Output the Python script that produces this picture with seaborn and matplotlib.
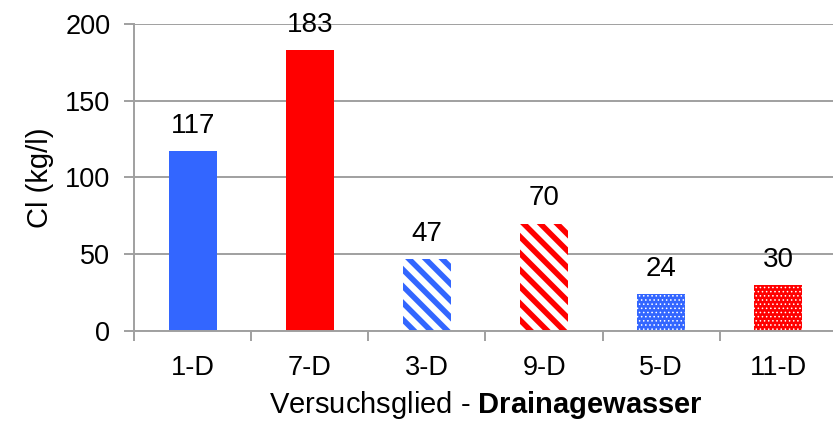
import matplotlib
matplotlib.use("Agg")
import matplotlib.pyplot as plt
import seaborn as sns
import pandas as pd

# Chloride in drainage water per treatment
categories = ["1-D", "7-D", "3-D", "9-D", "5-D", "11-D"]
values = [117, 183, 47, 70, 24, 30]
colors = ["#3366FF", "#FF0000", "#3366FF", "#FF0000", "#3366FF", "#FF0000"]
styles = ["solid", "solid", "stripe", "stripe", "dots", "dots"]
yticks = [0, 50, 100, 150, 200]

sns.set_theme(style="white")
plt.rcParams["font.family"] = ["Liberation Sans", "DejaVu Sans"]
plt.rcParams["mathtext.fontset"] = "custom"
plt.rcParams["mathtext.rm"] = "Liberation Sans"
plt.rcParams["mathtext.bf"] = "Liberation Sans:bold"
plt.rcParams["hatch.linewidth"] = 4.0
plt.rcParams["text.color"] = "black"
plt.rcParams["axes.labelcolor"] = "black"
plt.rcParams["xtick.labelcolor"] = "black"
plt.rcParams["ytick.labelcolor"] = "black"

grey = "#A0A0A0"
df = pd.DataFrame({"cat": categories, "val": values})

fig = plt.figure(figsize=(8.33, 4.25), dpi=100)
ax = fig.add_axes([134 / 833, 1 - 331 / 425, (837 - 134) / 833, (331 - 24) / 425])

sns.barplot(data=df, x="cat", y="val", hue="cat", palette=colors,
            order=categories, hue_order=categories, width=0.41,
            legend=False, ax=ax, saturation=1)

bars = sorted(ax.patches, key=lambda p: p.get_x())
for bar, col, st in zip(bars, colors, styles):
    bar.set_linewidth(0)
    if st == "stripe":
        bar.set_facecolor("white")
        bar.set_edgecolor(col)
        bar.set_hatch("\\\\")
        if hasattr(bar, "set_hatch_linewidth"):
            bar.set_hatch_linewidth(4.0)
    elif st == "dots":
        bar.set_facecolor(col)
        bar.set_edgecolor("white")
        bar.set_hatch("....")
        if hasattr(bar, "set_hatch_linewidth"):
            bar.set_hatch_linewidth(0.6)

for i, v in enumerate(values):
    ax.annotate(f"{v}", xy=(i, v), xytext=(0, 13), textcoords="offset points",
                ha="center", va="baseline", fontsize=20, color="black")

ax.set_xlim(-0.5, 5.5)
ax.set_ylim(0, 200)
ax.set_yticks(yticks)
ax.set_yticklabels([str(t) for t in yticks], fontsize=19.5)
ax.yaxis.grid(True, color=grey, linewidth=1.4)
ax.set_axisbelow(True)

ax.set_xticks(range(len(categories)))
ax.set_xticklabels(categories, fontsize=19.5)
ax.set_xticks([i - 0.5 for i in range(len(categories) + 1)], minor=True)
ax.tick_params(axis="x", which="major", length=0, pad=17)
ax.tick_params(axis="x", which="minor", length=7, width=1.4, color=grey, direction="out", bottom=True)
ax.tick_params(axis="y", length=7, width=1.4, color=grey, direction="out", pad=10, left=True)

for side in ["top", "right"]:
    ax.spines[side].set_visible(False)
for side in ["left", "bottom"]:
    ax.spines[side].set_color(grey)
    ax.spines[side].set_linewidth(1.4)

ax.set_ylabel("Cl (kg/l)", fontsize=21, labelpad=8)
ax.set_xlabel(r"Versuchsglied - $\mathbf{Drainagewasser}$", fontsize=21, labelpad=6)

fig.savefig("out.png", dpi=100)
